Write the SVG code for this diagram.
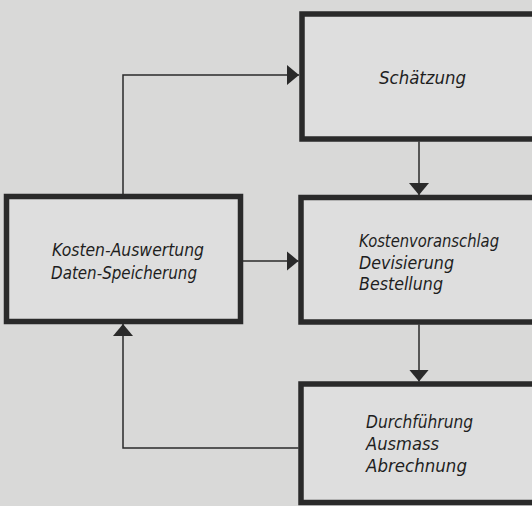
<svg xmlns="http://www.w3.org/2000/svg" width="532" height="506" viewBox="0 0 532 506">
  <defs>
    <style>
      .box { fill: #dedede; stroke: #2a2a2a; stroke-width: 5.5; }
      .conn { fill: none; stroke: #2a2a2a; stroke-width: 1.5; }
      .lbl { font-family: "DejaVu Sans", "Liberation Sans", sans-serif; font-style: oblique; font-size: 17.5px; fill: #1e1e1e; }
    </style>
    <marker id="arr" viewBox="0 0 12 20" refX="12" refY="10" markerWidth="12" markerHeight="20" markerUnits="userSpaceOnUse" orient="auto">
      <path d="M0,0 L12,10 L0,20 Z" fill="#2a2a2a"/>
    </marker>
  </defs>
  <rect x="0" y="0" width="532" height="506" fill="#d9d9d8"/>

  <g id="node-schaetzung">
    <rect class="box" x="302" y="14" width="250" height="125"/>
    <text class="lbl" x="379" y="84" textLength="87" lengthAdjust="spacingAndGlyphs">Schätzung</text>
  </g>

  <g id="node-kostenvoranschlag">
    <rect class="box" x="301" y="197.5" width="250" height="124.5"/>
    <text class="lbl" x="359" y="247" textLength="140" lengthAdjust="spacingAndGlyphs">Kostenvoranschlag</text>
    <text class="lbl" x="359" y="269" textLength="95" lengthAdjust="spacingAndGlyphs">Devisierung</text>
    <text class="lbl" x="359" y="290" textLength="84" lengthAdjust="spacingAndGlyphs">Bestellung</text>
  </g>

  <g id="node-durchfuehrung">
    <rect class="box" x="301" y="384" width="250" height="118.5"/>
    <text class="lbl" x="366" y="428" textLength="107" lengthAdjust="spacingAndGlyphs">Durchführung</text>
    <text class="lbl" x="366" y="450" textLength="73" lengthAdjust="spacingAndGlyphs">Ausmass</text>
    <text class="lbl" x="366" y="472" textLength="101" lengthAdjust="spacingAndGlyphs">Abrechnung</text>
  </g>

  <g id="node-kostenauswertung">
    <rect class="box" x="6.5" y="196.5" width="234" height="125"/>
    <text class="lbl" x="52" y="256" textLength="152" lengthAdjust="spacingAndGlyphs">Kosten-Auswertung</text>
    <text class="lbl" x="51" y="279" textLength="146" lengthAdjust="spacingAndGlyphs">Daten-Speicherung</text>
  </g>

  <g id="connectors">
    <polyline class="conn" points="123,194 123,75 299,75" marker-end="url(#arr)"/>
    <polyline class="conn" points="419,141.5 419,195" marker-end="url(#arr)"/>
    <polyline class="conn" points="243,261 298.5,261" marker-end="url(#arr)"/>
    <polyline class="conn" points="419,324.5 419,381.5" marker-end="url(#arr)"/>
    <polyline class="conn" points="298.5,448 123,448 123,324" marker-end="url(#arr)"/>
  </g>
</svg>
